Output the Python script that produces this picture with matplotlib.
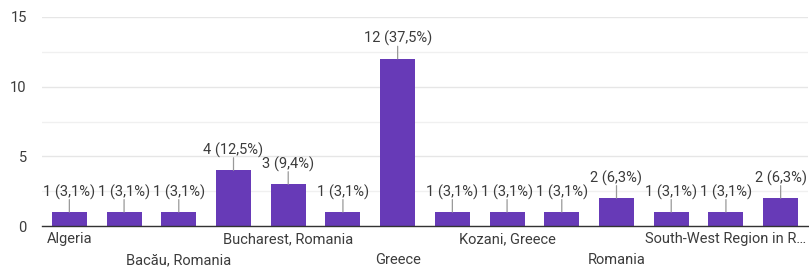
import matplotlib
matplotlib.use("Agg")
import matplotlib.pyplot as plt
from matplotlib.ticker import MultipleLocator

plt.rcParams['font.family'] = ['Roboto', 'DejaVu Sans']

categories = ["Algeria", "", "Bacău, Romania", "", "Bucharest, Romania", "",
              "Greece", "", "Kozani, Greece", "", "Romania", "",
              "South-West Region in R…", ""]
values = [1, 1, 1, 4, 3, 1, 12, 1, 1, 1, 2, 1, 1, 2]
percents = ["3,1%", "3,1%", "3,1%", "12,5%", "9,4%", "3,1%", "37,5%",
            "3,1%", "3,1%", "3,1%", "6,3%", "3,1%", "3,1%", "6,3%"]
yticks = [0, 5, 10, 15]

bar_color = "#673ab7"
text_color = "#3c3c3c"
fs = 10.5

fig = plt.figure(figsize=(8.09, 2.71), dpi=100)
ax = fig.add_axes([42/809, 45/271, 766/809, 209/271])

x = list(range(len(values)))
ax.bar(x, values, width=0.64, color=bar_color, zorder=3)

for i, (v, p) in enumerate(zip(values, percents)):
    ax.annotate("", xy=(i, v), xytext=(0, 9), textcoords="offset points",
                arrowprops=dict(arrowstyle="-", color="#999999", lw=0.9,
                                shrinkA=0, shrinkB=0), zorder=4)
    ax.annotate(f"{v} ({p})", xy=(i, v), xytext=(0, 9), textcoords="offset points",
                ha="center", va="bottom", fontsize=fs, color=text_color, zorder=5)

ax.set_xlim(-0.5, len(values) - 0.5)
ax.set_ylim(0, 15)
ax.set_yticks(yticks)
ax.yaxis.set_minor_locator(MultipleLocator(2.5))
ax.grid(axis="y", which="major", color="#e6e6e6", lw=1, zorder=0)
ax.grid(axis="y", which="minor", color="#f0f0f0", lw=1, zorder=0)

upper = [0, 4, 8, 12]
lower = [2, 6, 10]
ax.set_xticks(upper)
ax.set_xticklabels([categories[i] for i in upper])
ax.set_xticks(lower, minor=True)
ax.set_xticklabels([categories[i] for i in lower], minor=True)
ax.tick_params(axis="x", which="major", length=0, pad=4.5, labelsize=fs, labelcolor=text_color)
ax.tick_params(axis="x", which="minor", length=0, pad=19.5, labelsize=fs, labelcolor=text_color)
ax.tick_params(axis="y", which="both", length=0, pad=11, labelsize=fs, labelcolor=text_color)

for s in ["top", "right", "left"]:
    ax.spines[s].set_visible(False)
ax.spines["bottom"].set_color("#333333")
ax.spines["bottom"].set_linewidth(1)
ax.spines["bottom"].set_zorder(6)

fig.savefig("out.png", dpi=100)
